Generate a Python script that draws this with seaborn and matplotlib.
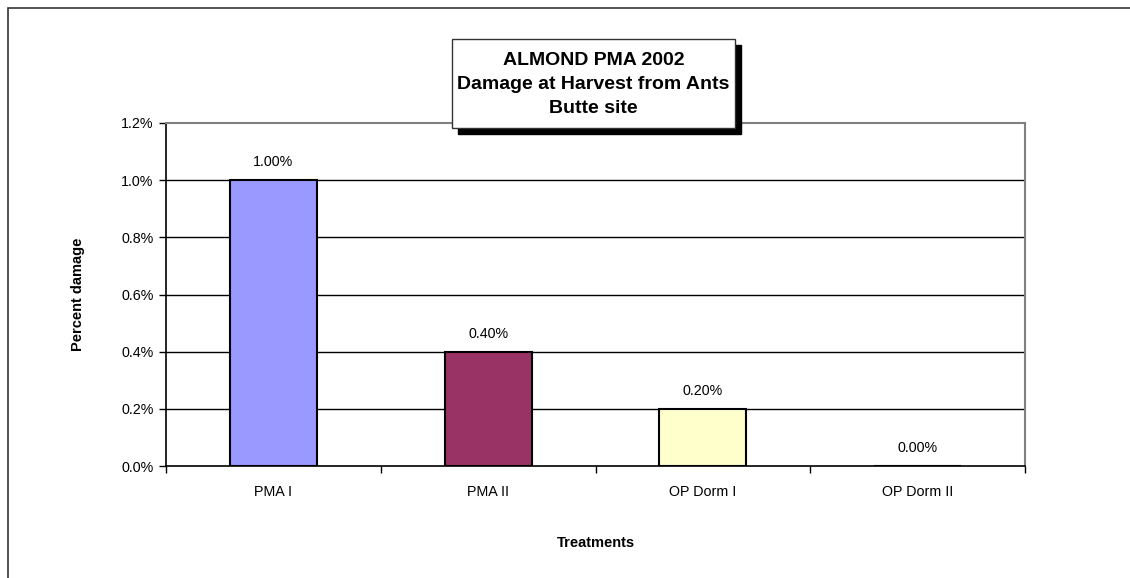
import matplotlib
matplotlib.use("Agg")
import matplotlib.pyplot as plt
import seaborn as sns
import pandas as pd
from matplotlib.patches import Rectangle
from matplotlib.ticker import FuncFormatter, FixedLocator

categories = ["PMA I", "PMA II", "OP Dorm I", "OP Dorm II"]
values = [1.00, 0.40, 0.20, 0.00]
colors = ["#9999FF", "#993366", "#FFFFCC", "#FFFFFF"]
title_lines = ["ALMOND PMA 2002", "Damage at Harvest from Ants", "Butte site"]
yticks = [0.0, 0.2, 0.4, 0.6, 0.8, 1.0, 1.2]

sns.set_style("white")
plt.rcParams["font.family"] = ["Liberation Sans", "DejaVu Sans"]
plt.rcParams["text.color"] = "black"
plt.rcParams["axes.labelcolor"] = "black"
plt.rcParams["xtick.color"] = "black"
plt.rcParams["ytick.color"] = "black"

W, H = 1130, 578
fig = plt.figure(figsize=(W / 100, H / 100), dpi=100)
ax = fig.add_axes([166 / W, 1 - 466 / H, (1025 - 166) / W, (466 - 123) / H])

df = pd.DataFrame({"cat": categories, "val": values})
sns.barplot(data=df, x="cat", y="val", hue="cat", palette=colors, legend=False,
            saturation=1, width=0.405, edgecolor="black", linewidth=1.5,
            ax=ax, zorder=3)

ax.set_ylim(0, 1.2)
ax.set_xlim(-0.5, len(categories) - 0.5)
ax.yaxis.set_major_locator(FixedLocator(yticks))
ax.yaxis.set_major_formatter(FuncFormatter(lambda v, p: f"{v:.1f}%"))
for y in yticks[1:-1]:
    ax.axhline(y, color="black", linewidth=1.0, zorder=1)

for s in ["top", "right"]:
    ax.spines[s].set_color("#808080")
    ax.spines[s].set_linewidth(1.5)
for s in ["left", "bottom"]:
    ax.spines[s].set_color("black")
    ax.spines[s].set_linewidth(1.2)

ax.tick_params(axis="y", which="major", direction="out", length=5, width=1,
               color="black", left=True, labelsize=10.3, pad=4)
ax.tick_params(axis="x", which="major", length=0, labelsize=10.3, pad=14)
ax.set_xticks([i - 0.5 for i in range(len(categories) + 1)], minor=True)
ax.tick_params(axis="x", which="minor", direction="out", length=5, width=1,
               color="black", bottom=True)

for i, c in enumerate(ax.containers):
    ax.bar_label(c, labels=[f"{v:.2f}%" for v in c.datavalues], padding=8,
                 fontsize=10.3)

ax.set_xlabel("Treatments", fontsize=10.5, fontweight="bold", labelpad=26)
ax.set_ylabel("Percent damage", fontsize=10.5, fontweight="bold", labelpad=26)

# figure border (top and left visible)
fig.patches.append(Rectangle((8 / W, -0.1), 1.2, 1 - 8 / H + 0.1,
                             transform=fig.transFigure, fill=False,
                             edgecolor="#333333", linewidth=1.2))

# title box with shadow
bx0, bx1, by0, by1 = 452, 735, 39, 128
fig.patches.append(Rectangle(((bx0 + 6) / W, 1 - (by1 + 6) / H),
                             (bx1 - bx0) / W, (by1 - by0) / H,
                             transform=fig.transFigure, facecolor="black",
                             edgecolor="black", zorder=5))
fig.patches.append(Rectangle((bx0 / W, 1 - by1 / H),
                             (bx1 - bx0) / W, (by1 - by0) / H,
                             transform=fig.transFigure, facecolor="white",
                             edgecolor="#333333", linewidth=1.0, zorder=6))
fig.text((bx0 + bx1) / 2 / W, 1 - (by0 + by1 + 2) / 2 / H, "\n".join(title_lines),
         ha="center", va="center", fontsize=14, fontweight="bold",
         linespacing=1.52, color="black", zorder=7)

fig.savefig("out.png", dpi=100)
